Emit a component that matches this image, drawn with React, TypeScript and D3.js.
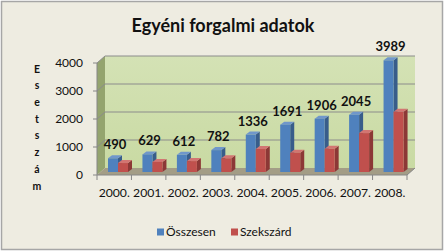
import React from "react";
import * as d3 from "d3";

const categories = ["2000.", "2001.", "2002.", "2003.", "2004.", "2005.", "2006.", "2007.", "2008."];
const osszesen = [490, 629, 612, 782, 1336, 1691, 1906, 2045, 3989];
const szekszard = [320, 360, 390, 490, 820, 690, 830, 1390, 2150];
const yTicks = [0, 1000, 2000, 3000, 4000];
const seriesNames = ["Összesen", "Szekszárd"];
const title = "Egyéni forgalmi adatok";
const yTitle = "Esetszám";

const W = 445, H = 252;
const FONT = "Lato, 'Open Sans', sans-serif";

const front = { left: 97, right: 407, bottom: 175, top: 63 };
const wdx = 8, wdy = -7; // wall depth
const bdx = 2, bdy = -3; // bar position in depth
const sdx = 4, sdy = -3; // bar side depth

const colors = [
  { face: "#4F81BD", side: "#385D8A", top: "#7097CB" },
  { face: "#C0504D", side: "#8C3836", top: "#D27572" },
];

export default function App() {
  const x = d3.scaleBand<string>().domain(categories).range([front.left, front.right]);
  const y = d3.scaleLinear().domain([0, 4000]).range([front.bottom, front.top]);
  const barW = 10;
  const innerPad = 9;
  const series = [osszesen, szekszard];

  const bars: React.ReactNode[] = [];
  categories.forEach((c, i) => {
    series.forEach((vals, s) => {
      const v = vals[i];
      const x0 = (x(c) as number) + innerPad + bdx + s * barW;
      const x1 = x0 + barW;
      const yb = y(0) + bdy;
      const yt = y(v) + bdy;
      const col = colors[s];
      bars.push(
        <g key={`${i}-${s}`}>
          <polygon points={`${x1},${yb} ${x1 + sdx},${yb + sdy} ${x1 + sdx},${yt + sdy} ${x1},${yt}`} fill={col.side} />
          <polygon points={`${x0},${yt} ${x0 + sdx},${yt + sdy} ${x1 + sdx},${yt + sdy} ${x1},${yt}`} fill={col.top} />
          <rect x={x0} y={yt} width={barW} height={yb - yt} fill={col.face} />
        </g>
      );
    });
  });

  const wl = front.left + wdx, wr = front.right + wdx;
  const wt = y(4000) + wdy, wb = y(0) + wdy;

  return (
    <svg width={W} height={H} style={{ position: "absolute", left: 0, top: 0 }} fontFamily={FONT}>
      <defs>
        <linearGradient id="wallG" x1="0" y1="0" x2="0" y2="1">
          <stop offset="0" stopColor="#D4E2B5" />
          <stop offset="1" stopColor="#C9DAA3" />
        </linearGradient>
      </defs>
      <rect x={0} y={0} width={W} height={H} fill="#FFFFFF" />
      <rect x={1.5} y={1.5} width={441} height={248} fill="#EEECE1" stroke="#A6A6A6" strokeWidth={1.5} />
      <text x={223} y={32} textAnchor="middle" fontSize={18} fontWeight="bold" fill="#111">{title}</text>

      {/* back wall */}
      <rect x={wl} y={wt} width={wr - wl} height={wb - wt} fill="url(#wallG)" />
      {/* left wall */}
      <polygon points={`${front.left},${y(0)} ${wl},${wb} ${wl},${wt} ${front.left},${y(4000)}`} fill="#94A46E" />
      {/* floor */}
      <polygon points={`${front.left},${y(0)} ${front.right},${y(0)} ${wr},${wb} ${wl},${wb}`} fill="#A39D86" />

      {/* gridlines */}
      {yTicks.filter(t => t > 0).map(t => (
        <g key={t}>
          <line x1={wl} x2={wr} y1={y(t) + wdy} y2={y(t) + wdy} stroke="#8C8C8C" strokeWidth={1} />
          <line x1={front.left} x2={wl} y1={y(t)} y2={y(t) + wdy} stroke="#8C8C8C" strokeWidth={1} />
        </g>
      ))}

      {/* axes */}
      <line x1={front.left} x2={front.left} y1={y(4000)} y2={y(0)} stroke="#868686" />
      <line x1={front.left} x2={front.right} y1={y(0)} y2={y(0)} stroke="#868686" />
      <line x1={front.right} x2={wr} y1={y(0)} y2={wb} stroke="#868686" />
      {yTicks.map(t => (
        <g key={t}>
          <line x1={front.left - 4} x2={front.left} y1={y(t)} y2={y(t)} stroke="#868686" />
          <text x={83} y={y(t)} dy="0.35em" textAnchor="end" fontSize={12} fill="#111">{t}</text>
        </g>
      ))}
      {categories.map((c, i) => (
        <g key={c}>
          <line x1={x(c) as number} x2={x(c) as number} y1={y(0)} y2={y(0) + 5} stroke="#868686" />
          {i === categories.length - 1 && (
            <line x1={front.right} x2={front.right} y1={y(0)} y2={y(0) + 5} stroke="#868686" />
          )}
          <text x={(x(c) as number) + x.bandwidth() / 2} y={197} textAnchor="middle" fontSize={12.2} fill="#111">{c}</text>
        </g>
      ))}

      {bars}

      {/* data labels */}
      {categories.map((c, i) => (
        <text key={c} x={(x(c) as number) + innerPad + bdx + barW / 2 + 2} y={y(osszesen[i]) + bdy - 9}
          textAnchor="middle" fontSize={13} fontWeight="bold" fill="#111">{osszesen[i]}</text>
      ))}

      {/* y title stacked */}
      {yTitle.split("").map((ch, i) => (
        <text key={i} x={37} y={69 + i * 16.7} dy="0.35em" textAnchor="middle" fontSize={10.5} fontWeight="bold" fill="#111">{ch}</text>
      ))}

      {/* legend */}
      {seriesNames.map((n, i) => {
        const lx = i === 0 ? 157 : 231;
        return (
          <g key={n}>
            <rect x={lx} y={228.5} width={7} height={7} fill={colors[i].face} />
            <text x={lx + 9} y={232} dy="0.35em" fontSize={12} fill="#111">{n}</text>
          </g>
        );
      })}
    </svg>
  );
}
